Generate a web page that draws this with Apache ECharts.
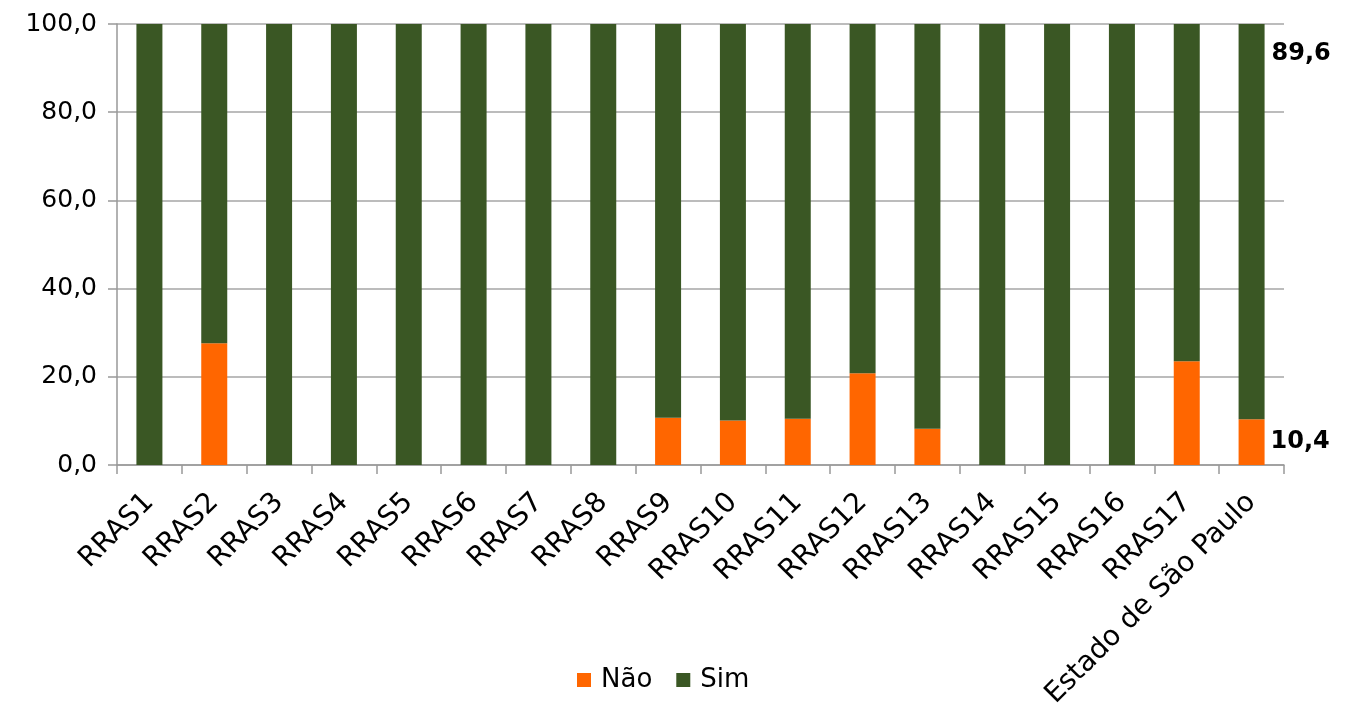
<!DOCTYPE html>
<html>
<head>
<meta charset="utf-8">
<script src="https://cdn.jsdelivr.net/npm/echarts@6/dist/echarts.min.js"></script>
<style>
  html, body { margin: 0; padding: 0; background: #fff; }
  #chart { width: 1346px; height: 709px; }
</style>
</head>
<body>
<div id="chart"></div>
<script>
// ==============================================================
// data
// ==============================================================
var categories = ['RRAS1', 'RRAS2', 'RRAS3', 'RRAS4', 'RRAS5', 'RRAS6', 'RRAS7', 'RRAS8', 'RRAS9',
    'RRAS10', 'RRAS11', 'RRAS12', 'RRAS13', 'RRAS14', 'RRAS15', 'RRAS16', 'RRAS17', 'Estado de São Paulo'];
var naoValues = [0, 27.6, 0, 0, 0, 0, 0, 0, 10.7, 10.1, 10.5, 20.8, 8.2, 0, 0, 0, 23.5, 10.4];
var simValues = [100, 72.4, 100, 100, 100, 100, 100, 100, 89.3, 89.9, 89.5, 79.2, 91.8, 100, 100, 100, 76.5, 89.6];
var yTicks = [0, 20, 40, 60, 80, 100];

var FONT = '"DejaVu Sans", Verdana, sans-serif';
var fmt = function (v) { return v.toFixed(1).replace('.', ','); };

// only the last bar (state total) carries a value label
function withLastLabel(values, label) {
    return values.map(function (v, i) {
        if (i !== values.length - 1) return v;
        return { value: v, label: label };
    });
}

var chart = echarts.init(document.getElementById('chart'));
var option = {
    animation: false,
    color: ['#FF6600', '#3A5724'],
    legend: {
        bottom: 11,
        left: 572,
        itemWidth: 14,
        itemHeight: 14,
        itemGap: 24,
        icon: 'rect',
        textStyle: { fontFamily: FONT, fontSize: 26, color: '#000', padding: [0, 0, 0, 5] },
        data: ['Não', 'Sim']
    },
    grid: { left: 117, right: 62, top: 24, bottom: 244, containLabel: false, outerBoundsMode: 'none' },
    xAxis: {
        type: 'category',
        data: categories,
        axisLine: { lineStyle: { color: '#999', width: 1.5 } },
        axisTick: { show: true, length: 9, lineStyle: { color: '#999', width: 1.5 } },
        axisLabel: {
            rotate: 45,
            interval: 0,
            margin: 33,
            fontFamily: FONT,
            fontSize: 28,
            color: '#000'
        }
    },
    yAxis: {
        type: 'value',
        min: 0,
        max: 100,
        interval: 20,
        axisLine: { show: true, lineStyle: { color: '#999', width: 1.5 } },
        axisTick: { show: true, length: 9, lineStyle: { color: '#999', width: 1.5 } },
        splitLine: { lineStyle: { color: '#A6A6A6', width: 1.5 } },
        axisLabel: {
            margin: 20,
            fontFamily: FONT,
            fontSize: 25,
            color: '#000',
            formatter: function (v) { return yTicks.indexOf(v) >= 0 ? fmt(v) : ''; }
        }
    },
    series: [
        {
            name: 'Não',
            type: 'bar',
            stack: 'total',
            barWidth: 26,
            data: withLastLabel(naoValues, {
                show: true,
                position: 'right',
                distance: 6,
                fontFamily: FONT,
                fontSize: 24,
                fontWeight: 'bold',
                color: '#000',
                formatter: function (p) { return fmt(p.value); }
            })
        },
        {
            name: 'Sim',
            type: 'bar',
            stack: 'total',
            barWidth: 26,
            data: withLastLabel(simValues, {
                show: true,
                position: [33, 30],
                align: 'left',
                verticalAlign: 'middle',
                fontFamily: FONT,
                fontSize: 24,
                fontWeight: 'bold',
                color: '#000',
                formatter: function (p) { return fmt(p.value); }
            })
        }
    ]
};
chart.setOption(option);
window.addEventListener('resize', function () { chart.resize(); });
</script>
</body>
</html>
